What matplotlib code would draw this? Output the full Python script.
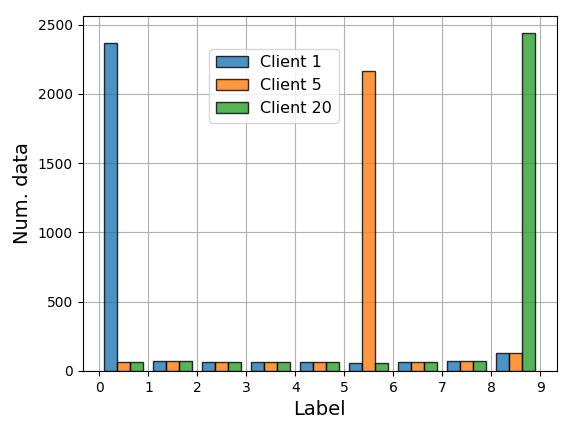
import numpy as np
import matplotlib
matplotlib.use('Agg')
import matplotlib.pyplot as plt

# conteos por etiqueta (bins 0..9, el ultimo junta 8 y 9)
labels = [0, 1, 2, 3, 4, 5, 6, 7, 8]
client_1 = [2368, 75, 67, 67, 63, 60, 65, 69, 132]
client_5 = [63, 75, 67, 67, 63, 2163, 65, 69, 132]
client_20 = [63, 75, 67, 67, 63, 60, 65, 69, 2440]
names = ['Client 1', 'Client 5', 'Client 20']
bins = list(range(10))

fig = plt.figure(figsize=(5.63, 4.24), dpi=100)
ax = fig.add_axes([0.147, 0.125, 0.842, 0.837])

x = np.array(labels) + 0.5
ax.hist([x, x, x], bins=bins, weights=[client_1, client_5, client_20],
        label=names, alpha=0.8, edgecolor='black',
        color=['tab:blue', 'tab:orange', 'tab:green'])

ax.set_xticks(bins)
ax.set_xlabel('Label', fontsize=14)
ax.set_ylabel('Num. data', fontsize=14)
ax.grid(True)
ax.set_axisbelow(True)
ax.legend(fontsize=11.5, loc='upper left', bbox_to_anchor=(0.25, 0.93))

fig.savefig('out.png', dpi=100)
